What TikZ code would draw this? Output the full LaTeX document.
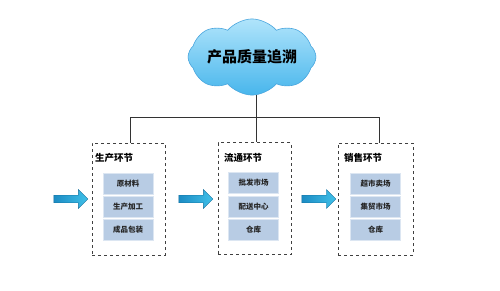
\documentclass[tikz,border=0pt]{standalone}
\usepackage{fontspec}
\newfontfamily\cjk{Noto Sans CJK SC}
\usetikzlibrary{shapes.symbols,shapes.arrows}
\definecolor{itemfill}{HTML}{B8CCE4}
\definecolor{itemedge}{HTML}{DCE6F2}
\definecolor{cloudtop}{HTML}{B0E4FB}
\definecolor{cloudbot}{HTML}{48B6EC}
\definecolor{cloudedge}{HTML}{4AA6DE}
\definecolor{arrowA}{HTML}{1C8CC4}
\definecolor{arrowB}{HTML}{3FC0E8}
\definecolor{linegray}{HTML}{333333}
\tikzset{
  stagebox/.style={draw=black!75, dashed, line width=0.9pt, minimum width=73pt, minimum height=112pt, inner sep=0pt},
  itembox/.style={draw=itemedge, line width=0.6pt, fill=itemfill, minimum width=50pt, minimum height=21pt, inner sep=0pt, font=\cjk\bfseries\fontsize{7.5}{8}\selectfont, text=black!85},
  stagetitle/.style={anchor=west, inner sep=0pt, font=\cjk\bfseries\fontsize{9.5}{10}\selectfont},
  flowarrow/.style={single arrow, draw=arrowA!80!black, line width=0.3pt, left color=arrowA, right color=arrowB, minimum height=34pt, minimum width=19pt, inner sep=3.5pt, single arrow head extend=5.5pt, single arrow head indent=0pt, shape border rotate=0},
  wire/.style={draw=linegray, line width=1pt}
}
\begin{document}
\begin{tikzpicture}[x=1pt,y=-1pt]
\useasboundingbox[fill=white] (0,0) rectangle (500,290);
% cloud
\node[cloud, cloud puffs=8, cloud puff arc=100, aspect=2.2, draw=cloudedge, line width=0.6pt, top color=cloudtop, bottom color=cloudbot, minimum width=116pt, minimum height=56pt, inner sep=0pt, font=\cjk\bfseries\fontsize{15}{16}\selectfont] (cloud) at (252,57) {产品质量追溯};
% stage boxes
\node[stagebox] (b1) at (128.5,199) {};
\node[stagebox] (b2) at (254.5,198.5) {};
\node[stagebox, minimum width=75pt] (b3) at (375.5,199) {};
% titles
\node[stagetitle] (t1) at (95,158) {生产环节};
\node[stagetitle] (t2) at (224,158) {流通环节};
\node[stagetitle] (t3) at (344,158) {销售环节};
% items
\node[itembox] (i11) at (128,183.5) {原材料};
\node[itembox] (i12) at (128,207) {生产加工};
\node[itembox] (i13) at (128,230) {成品包装};
\node[itembox] (i21) at (253.5,183) {批发市场};
\node[itembox] (i22) at (253.5,207) {配送中心};
\node[itembox] (i23) at (253.5,230) {仓库};
\node[itembox] (i31) at (375.5,183.5) {超市卖场};
\node[itembox] (i32) at (375.5,207) {集贸市场};
\node[itembox] (i33) at (375.5,230) {仓库};
% arrows
\node[flowarrow] (a1) at (69,199) {};
\node[flowarrow] (a2) at (194,199) {};
\node[flowarrow] (a3) at (317,199) {};
% tree connector
\coordinate (bus) at (256,117);
\coordinate (j1) at (130,117);
\coordinate (j3) at (379,117);
\draw[wire] (cloud.south -| bus) -- (bus);
\draw[wire] (j1) -- (j3);
\draw[wire] (j1) -- (j1 |- b1.north);
\draw[wire] (bus) -- (bus |- b2.north);
\draw[wire] (j3) -- (j3 |- b3.north);
\end{tikzpicture}
\end{document}
